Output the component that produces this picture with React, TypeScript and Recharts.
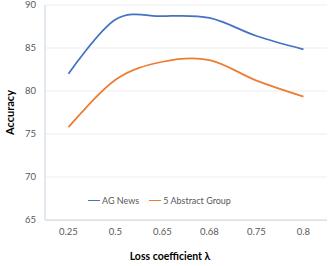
import React from 'react';
import { LineChart, Line, XAxis, YAxis, CartesianGrid, Legend, Label } from 'recharts';

const categories = ['0.25', '0.5', '0.65', '0.68', '0.75', '0.8'];
const agNews = [82.0, 88.3, 88.7, 88.5, 86.4, 84.85];
const abstractGroup = [75.8, 81.3, 83.4, 83.6, 81.2, 79.35];
const yTicks = [65, 70, 75, 80, 85, 90];
const seriesNames = ['AG News', '5 Abstract Group'];
const seriesColors = ['#4472C4', '#ED7D31'];

const data = categories.map((c, i) => ({ lambda: c, ag: agNews[i], abs: abstractGroup[i] }));

const FONT = 'Lato, "Open Sans", sans-serif';
const BORDER = '#D6DCE5';

class CardinalCurve {
  _context: any; _k: number; _line: number = NaN; _point = 0;
  _x0 = NaN; _x1 = NaN; _x2 = NaN; _y0 = NaN; _y1 = NaN; _y2 = NaN;
  constructor(context: any, tension: number) { this._context = context; this._k = (1 - tension) / 6; }
  areaStart() { this._line = 0; }
  areaEnd() { this._line = NaN; }
  lineStart() { this._x0 = this._x1 = this._x2 = this._y0 = this._y1 = this._y2 = NaN; this._point = 0; }
  lineEnd() {
    switch (this._point) {
      case 2: this._context.lineTo(this._x2, this._y2); break;
      case 3: this.seg(this._x1, this._y1); break;
    }
    if (this._line || (this._line !== 0 && this._point === 1)) this._context.closePath();
    this._line = 1 - this._line;
  }
  seg(x: number, y: number) {
    this._context.bezierCurveTo(
      this._x1 + this._k * (this._x2 - this._x0),
      this._y1 + this._k * (this._y2 - this._y0),
      this._x2 + this._k * (this._x1 - x),
      this._y2 + this._k * (this._y1 - y),
      this._x2, this._y2);
  }
  point(x: number, y: number) {
    x = +x; y = +y;
    switch (this._point) {
      case 0: this._point = 1; this._line ? this._context.lineTo(x, y) : this._context.moveTo(x, y); break;
      case 1: this._point = 2; this._x1 = x; this._y1 = y; break;
      case 2: this._point = 3; this.seg(x, y); break;
      default: this.seg(x, y); break;
    }
    this._x0 = this._x1; this._x1 = this._x2; this._x2 = x;
    this._y0 = this._y1; this._y1 = this._y2; this._y2 = y;
  }
}
const smoothCurve: any = (context: any) => new CardinalCurve(context, 0);

const LegendContent = () => (
  <div style={{ display: 'flex', alignItems: 'center', fontFamily: FONT, fontSize: 9, color: '#595959', whiteSpace: 'nowrap' }}>
    {seriesNames.map((n, i) => (
      <div key={n} style={{ display: 'flex', alignItems: 'center', marginRight: i === 0 ? 10 : 0 }}>
        <div style={{ width: 12, height: 1.75, background: seriesColors[i], marginRight: 2 }} />
        <span>{n}</span>
      </div>
    ))}
  </div>
);

const YLabel = (props: any) => {
  const vb = props.viewBox || {};
  const x = vb.x + 9;
  const y = vb.y + vb.height / 2;
  return (
    <text x={x} y={y} transform={`rotate(-90, ${x}, ${y})`} textAnchor="middle" dominantBaseline="central"
      fontFamily={FONT} fontWeight="bold" fontSize={11} fill="#000">Accuracy</text>
  );
};

const XLabel = (props: any) => {
  const vb = props.viewBox || {};
  const x = vb.x + vb.width / 2 - 16;
  const y = vb.y + 40;
  return (
    <text x={x} y={y} textAnchor="middle" fontFamily={FONT} fontWeight="bold" fontSize={10.5} fill="#000">Loss coefficient λ</text>
  );
};

export default function App() {
  return (
    <div style={{ position: 'absolute', left: 0, top: 0, background: '#fff' }}>
      <LineChart width={332} height={266} data={data} margin={{ top: 5, right: 5, left: 0, bottom: 0 }}>
        <CartesianGrid vertical={false} stroke="#EDEDED" strokeWidth={1} />
        <XAxis dataKey="lambda" height={46} padding={{ left: 23.5, right: 23.5 }}
          axisLine={{ stroke: BORDER, strokeWidth: 1.25 }} tickLine={false} tickMargin={2}
          tick={{ fontFamily: FONT, fontSize: 9.5, fill: '#595959' }} interval={0}>
          <Label content={XLabel} />
        </XAxis>
        <XAxis xAxisId="top" dataKey="lambda" orientation="top" height={0} tick={false} tickLine={false}
          axisLine={{ stroke: BORDER, strokeWidth: 1.25 }} />
        <YAxis width={45} domain={[65, 90]} ticks={yTicks} interval={0}
          axisLine={{ stroke: BORDER, strokeWidth: 1.25 }} tickLine={false} tickMargin={3}
          tick={{ fontFamily: FONT, fontSize: 9.5, fill: '#595959' }}>
          <Label content={YLabel} />
        </YAxis>
        <YAxis yAxisId="right" orientation="right" width={0} domain={[65, 90]} tick={false} tickLine={false}
          axisLine={{ stroke: BORDER, strokeWidth: 1.25 }} />
        <Legend verticalAlign="middle" layout="horizontal" content={<LegendContent />}
          wrapperStyle={{ left: 88, top: 195, width: 160, height: 14 }} />
        <Line dataKey="ag" name={seriesNames[0]} type={smoothCurve} stroke={seriesColors[0]} strokeWidth={1.75}
          dot={false} activeDot={false} isAnimationActive={false} />
        <Line dataKey="abs" name={seriesNames[1]} type={smoothCurve} stroke={seriesColors[1]} strokeWidth={1.75}
          dot={false} activeDot={false} isAnimationActive={false} />
      </LineChart>
    </div>
  );
}
